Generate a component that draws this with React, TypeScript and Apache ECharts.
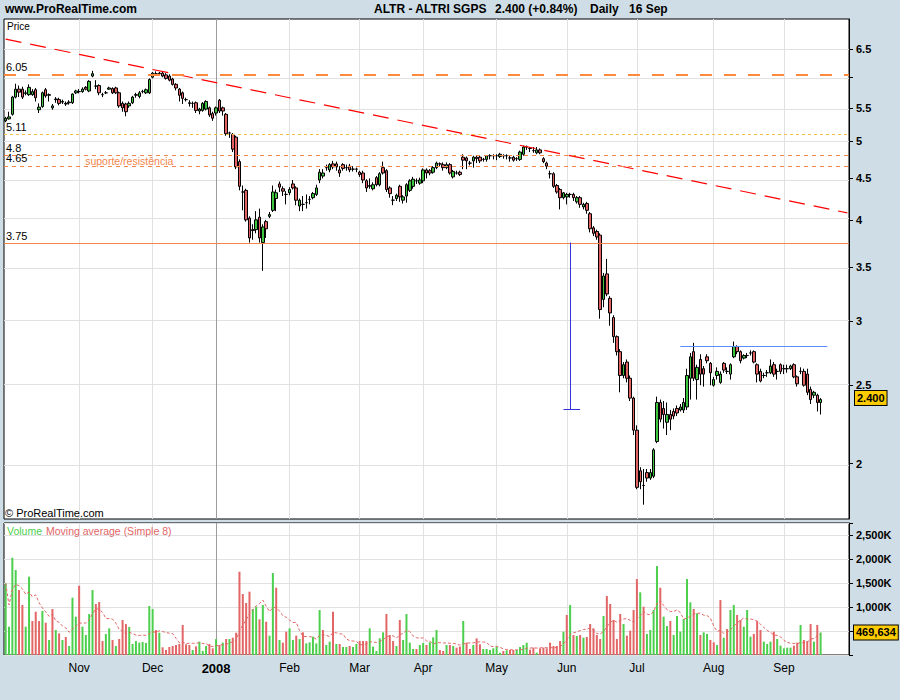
import { useEffect, useRef } from "react";
import * as echarts from "echarts";

// ---------------- data ----------------
const FIRST_TRADING_DAY = "2007-10-02";
const MARKET_HOLIDAYS = ["2007-12-25", "2007-12-26", "2008-01-01", "2008-03-21", "2008-03-24", "2008-05-01"];
const EMPTY_FUTURE_SLOTS = 8;
const MONTH_ABBR = ["Jan", "Feb", "Mar", "Apr", "May", "Jun", "Jul", "Aug", "Sep", "Oct", "Nov", "Dec"];

// daily candles: [open, high, low, close]
const CANDLES: number[][] = [
  [5.30,5.36,5.28,5.34],[5.33,5.44,5.32,5.36],[5.40,5.69,5.38,5.67],[5.67,5.89,5.65,5.80],[5.80,5.86,5.67,5.75],
  [5.80,5.84,5.64,5.67],[5.73,5.78,5.70,5.74],[5.71,5.88,5.69,5.83],[5.71,5.80,5.69,5.76],[5.79,5.82,5.60,5.66],
  [5.47,5.57,5.42,5.51],[5.52,5.76,5.50,5.74],[5.79,5.82,5.66,5.69],[5.70,5.73,5.60,5.71],[5.50,5.56,5.47,5.53],
  [5.64,5.67,5.58,5.63],[5.63,5.66,5.54,5.57],[5.59,5.63,5.56,5.60],[5.57,5.60,5.53,5.56],[5.58,5.62,5.55,5.59],
  [5.58,5.73,5.56,5.72],[5.74,5.79,5.72,5.77],[5.76,5.80,5.73,5.76],[5.76,5.83,5.74,5.80],[5.83,5.85,5.78,5.80],
  [5.77,5.95,5.75,5.93],[6.02,6.11,6.00,6.06],[5.85,5.95,5.80,5.85],[5.86,5.88,5.70,5.74],[5.71,5.74,5.67,5.71],
  [5.74,5.77,5.72,5.74],[5.80,5.84,5.79,5.82],[5.81,5.83,5.72,5.74],[5.82,5.84,5.72,5.74],[5.74,5.76,5.50,5.53],
  [5.57,5.60,5.44,5.50],[5.56,5.58,5.37,5.44],[5.53,5.60,5.50,5.57],[5.58,5.69,5.56,5.67],[5.70,5.74,5.66,5.71],
  [5.68,5.77,5.65,5.74],[5.76,5.79,5.73,5.76],[5.74,5.81,5.72,5.79],[5.74,5.98,5.72,5.96],[6.00,6.09,5.98,6.07],
  [6.06,6.10,6.03,6.06],[6.07,6.09,6.03,6.06],[6.07,6.09,6.00,6.02],[6.04,6.07,5.96,5.98],[6.02,6.05,5.93,5.95],
  [5.97,5.99,5.86,5.88],[5.88,5.90,5.78,5.82],[5.80,5.82,5.60,5.70],[5.74,5.76,5.56,5.65],[5.63,5.66,5.60,5.63],
  [5.58,5.62,5.52,5.57],[5.57,5.60,5.50,5.57],[5.58,5.60,5.42,5.46],[5.45,5.50,5.40,5.48],[5.46,5.59,5.44,5.57],
  [5.48,5.62,5.46,5.60],[5.50,5.52,5.36,5.39],[5.41,5.44,5.30,5.34],[5.42,5.52,5.38,5.50],[5.62,5.64,5.42,5.45],
  [5.50,5.52,5.38,5.45],[5.40,5.42,5.08,5.11],[5.12,5.14,5.05,5.12],[5.10,5.12,4.85,4.89],[5.06,5.08,4.62,4.65],
  [4.72,4.75,4.35,4.40],[4.33,4.41,4.11,4.33],[4.35,4.37,3.98,4.00],[4.02,4.04,3.75,3.80],[3.89,3.95,3.78,3.88],
  [3.89,4.10,3.85,4.00],[4.03,4.13,3.75,3.80],[3.75,3.95,3.46,3.92],[3.98,4.00,3.80,3.90],[4.04,4.09,4.02,4.06],
  [4.11,4.41,4.09,4.33],[4.25,4.36,4.10,4.32],[4.43,4.46,4.33,4.39],[4.37,4.40,4.28,4.34],[4.30,4.34,4.18,4.30],
  [4.32,4.39,4.29,4.36],[4.43,4.48,4.36,4.38],[4.38,4.40,4.17,4.23],[4.16,4.25,4.10,4.23],[4.18,4.28,4.10,4.18],
  [4.20,4.30,4.13,4.20],[4.24,4.28,4.18,4.24],[4.26,4.33,4.24,4.31],[4.30,4.42,4.28,4.38],[4.48,4.62,4.44,4.58],
  [4.53,4.62,4.50,4.57],[4.64,4.68,4.60,4.64],[4.61,4.70,4.58,4.68],[4.69,4.73,4.62,4.65],[4.69,4.72,4.60,4.65],
  [4.61,4.66,4.52,4.57],[4.68,4.70,4.60,4.63],[4.64,4.68,4.60,4.64],[4.66,4.69,4.58,4.61],[4.62,4.66,4.59,4.62],
  [4.62,4.64,4.58,4.62],[4.58,4.60,4.52,4.55],[4.57,4.60,4.44,4.48],[4.47,4.49,4.33,4.38],[4.41,4.50,4.37,4.40],
  [4.37,4.45,4.35,4.42],[4.51,4.53,4.40,4.42],[4.42,4.58,4.40,4.56],[4.64,4.72,4.55,4.57],[4.60,4.62,4.33,4.36],
  [4.38,4.40,4.26,4.31],[4.23,4.28,4.17,4.23],[4.25,4.31,4.22,4.29],[4.40,4.42,4.21,4.27],[4.23,4.29,4.19,4.27],
  [4.28,4.44,4.20,4.42],[4.35,4.49,4.33,4.47],[4.40,4.52,4.37,4.49],[4.47,4.50,4.43,4.47],[4.44,4.51,4.42,4.48],
  [4.47,4.63,4.44,4.61],[4.61,4.63,4.50,4.57],[4.60,4.62,4.54,4.57],[4.58,4.66,4.56,4.64],[4.64,4.72,4.62,4.70],
  [4.69,4.71,4.66,4.69],[4.68,4.71,4.60,4.64],[4.64,4.71,4.62,4.68],[4.68,4.70,4.55,4.57],[4.52,4.61,4.50,4.59],
  [4.57,4.60,4.55,4.57],[4.58,4.60,4.53,4.55],[4.78,4.82,4.62,4.74],[4.77,4.79,4.62,4.73],[4.70,4.73,4.67,4.70],
  [4.73,4.80,4.64,4.78],[4.78,4.80,4.70,4.76],[4.78,4.80,4.70,4.73],[4.75,4.77,4.72,4.75],[4.75,4.81,4.72,4.80],
  [4.80,4.82,4.75,4.80],[4.80,4.82,4.75,4.80],[4.80,4.82,4.74,4.80],[4.79,4.84,4.77,4.82],[4.80,4.82,4.76,4.80],
  [4.80,4.82,4.75,4.80],[4.77,4.80,4.72,4.77],[4.78,4.80,4.72,4.74],[4.76,4.78,4.73,4.76],[4.75,4.87,4.73,4.85],
  [4.82,4.94,4.80,4.92],[4.92,4.94,4.88,4.92],[4.90,4.92,4.85,4.90],[4.87,4.92,4.84,4.87],[4.84,4.92,4.82,4.88],
  [4.88,4.90,4.82,4.84],[4.76,4.78,4.70,4.72],[4.70,4.72,4.62,4.66],[4.56,4.60,4.50,4.56],[4.56,4.58,4.38,4.40],
  [4.41,4.43,4.31,4.33],[4.36,4.38,4.12,4.26],[4.26,4.33,4.24,4.32],[4.27,4.32,4.18,4.30],[4.30,4.32,4.26,4.30],
  [4.30,4.32,4.22,4.26],[4.21,4.28,4.19,4.26],[4.26,4.28,4.14,4.18],[4.15,4.20,4.12,4.18],[4.19,4.21,4.07,4.11],
  [4.07,4.09,3.86,3.90],[3.91,3.93,3.82,3.85],[3.87,3.89,3.78,3.81],[3.83,3.85,3.02,3.10],[3.19,3.44,3.12,3.41],
  [3.43,3.58,3.22,3.24],[3.20,3.22,2.96,3.07],[3.03,3.05,2.82,2.87],[2.87,2.88,2.72,2.75],[2.75,2.77,2.45,2.57],
  [2.57,2.67,2.55,2.65],[2.67,2.69,2.52,2.55],[2.55,2.57,2.39,2.41],[2.41,2.42,2.17,2.20],[2.20,2.23,1.86,1.87],
  [1.96,1.98,1.86,1.90],[1.88,1.97,1.78,1.88],[1.95,1.97,1.90,1.92],[1.92,1.97,1.91,1.95],[1.93,2.09,1.92,2.08],
  [2.13,2.42,2.12,2.38],[2.38,2.40,2.25,2.27],[2.34,2.39,2.21,2.30],[2.25,2.38,2.17,2.30],[2.30,2.33,2.20,2.27],
  [2.32,2.34,2.27,2.29],[2.34,2.36,2.29,2.31],[2.33,2.37,2.32,2.35],[2.33,2.41,2.31,2.38],[2.35,2.62,2.33,2.57],
  [2.55,2.74,2.40,2.71],[2.75,2.82,2.53,2.55],[2.54,2.65,2.40,2.63],[2.69,2.73,2.50,2.58],[2.62,2.64,2.49,2.58],
  [2.71,2.73,2.66,2.68],[2.66,2.67,2.50,2.59],[2.50,2.56,2.49,2.54],[2.57,2.63,2.54,2.60],[2.52,2.60,2.51,2.58],
  [2.66,2.67,2.59,2.61],[2.60,2.63,2.58,2.60],[2.58,2.66,2.54,2.65],[2.71,2.83,2.70,2.79],[2.79,2.80,2.73,2.75],
  [2.75,2.76,2.66,2.68],[2.70,2.73,2.69,2.72],[2.72,2.74,2.70,2.72],[2.74,2.76,2.72,2.74],[2.75,2.76,2.66,2.67],
  [2.65,2.66,2.52,2.58],[2.60,2.62,2.52,2.53],[2.57,2.59,2.55,2.57],[2.59,2.61,2.56,2.59],[2.59,2.69,2.58,2.64],
  [2.65,2.67,2.56,2.58],[2.60,2.62,2.54,2.60],[2.65,2.66,2.58,2.60],[2.62,2.65,2.58,2.62],[2.62,2.65,2.59,2.62],
  [2.62,2.65,2.61,2.64],[2.65,2.66,2.55,2.56],[2.56,2.57,2.49,2.51],[2.60,2.63,2.58,2.60],[2.60,2.62,2.49,2.50],
  [2.58,2.62,2.43,2.45],[2.47,2.49,2.37,2.40],[2.43,2.46,2.41,2.45],[2.43,2.44,2.32,2.38],[2.38,2.41,2.30,2.40],
];

// daily volume, thousands of shares
const VOLUME_K: number[] = [
  1492, 590, 2026, 1770, 1353, 1041, 590, 1631, 708, 902,
  708, 916, 673, 312, 958, 520, 451, 312, 375, 187,
  1194, 798, 1443, 590, 416, 854, 1353, 1062, 1103, 291,
  437, 555, 312, 187, 333, 729, 645, 583, 229, 291,
  257, 271, 250, 1020, 958, 520, 465, 160, 104, 167,
  187, 208, 229, 625, 222, 208, 104, 180, 278, 83,
  187, 229, 139, 333, 208, 257, 333, 333, 361, 465,
  1735, 1270, 1083, 1319, 958, 1006, 743, 1041, 694, 403,
  1707, 1402, 312, 257, 486, 555, 312, 403, 333, 472,
  243, 264, 382, 243, 937, 520, 208, 278, 902, 229,
  229, 167, 167, 187, 167, 229, 291, 291, 291, 555,
  174, 83, 347, 472, 854, 416, 291, 187, 729, 312,
  854, 257, 125, 125, 208, 250, 208, 264, 368, 520,
  104, 83, 208, 208, 187, 153, 174, 708, 257, 125,
  208, 347, 222, 125, 125, 104, 139, 174, 49, 83,
  97, 104, 104, 104, 167, 208, 257, 111, 153, 49,
  139, 153, 139, 257, 187, 187, 291, 486, 833, 1041,
  416, 396, 416, 361, 375, 645, 555, 416, 333, 812,
  1228, 1062, 729, 333, 854, 645, 403, 507, 937, 1582,
  1305, 1006, 437, 520, 937, 1853, 1402, 798, 604, 708,
  416, 812, 486, 750, 1582, 1097, 958, 868, 416, 472,
  437, 312, 264, 208, 1145, 361, 541, 937, 1041, 833,
  729, 590, 937, 382, 437, 708, 520, 278, 229, 278,
  486, 333, 194, 139, 153, 153, 194, 257, 625, 312,
  291, 645, 278, 625, 469.634,
];

const PRICE_GRID_VALUES = [2, 2.5, 3, 3.5, 4, 4.5, 5, 5.5, 6, 6.5];
const PRICE_LABEL_VALUES = [2, 2.5, 3, 3.5, 4, 4.5, 5, 5.5, 6.5];
const PRICE_MIN = 1.709;
const PRICE_MAX = 7.08;
const VOLUME_MAX_K = 2750;
const VOLUME_LABELS_K = [1000, 1500, 2000, 2500];
const LEVEL_605 = 6.05;
const LEVEL_511 = 5.11;
const LEVEL_480 = 4.8;
const LEVEL_465 = 4.65;
const LEVEL_375 = 3.75;
const TRENDLINE_START = 6.686;
const TRENDLINE_END = 4.08;
const MEASURE_BOTTOM = 2.334;
const RESISTANCE = 2.795;
const LAST_PRICE = 2.4;
const LAST_PRICE_TEXT = "2.400";
const LAST_VOLUME = 469634;
const MA_PERIOD = 8;

// ---------------- helpers ----------------
function tradingDays(startISO: string, count: number): string[] {
  const out: string[] = [];
  const d = new Date(startISO + "T12:00:00Z");
  while (out.length < count) {
    const dow = d.getUTCDay();
    const iso = d.toISOString().slice(0, 10);
    if (dow !== 0 && dow !== 6 && !MARKET_HOLIDAYS.includes(iso)) out.push(iso);
    d.setUTCDate(d.getUTCDate() + 1);
  }
  return out;
}

const FONT = "Arial, 'Liberation Sans', Helvetica, sans-serif";
const GREEN = "#3fc43f";
const RED = "#e06262";
const VGREEN = "#4ccf4c";
const VRED = "#e26666";
const GRID_GREY = "#e1e1e1";
const INVISIBLE_LINE = { color: "rgba(0,0,0,0)", width: 1, type: "solid" };

function buildOption(): any {
  const L = Math.log;
  const n = CANDLES.length;
  const dates = tradingDays(FIRST_TRADING_DAY, n + EMPTY_FUTURE_SLOTS);
  const last = dates.length - 1;
  const monthStarts: number[] = [];
  for (let i = 1; i < n; i++) {
    if (dates[i].slice(0, 7) !== dates[i - 1].slice(0, 7)) monthStarts.push(i);
  }
  const startSet = new Set(monthStarts);
  const closes = CANDLES.map((c) => c[3]);
  const isUp = (i: number) => (i === 0 ? true : closes[i] >= closes[i - 1]);

  const ma = VOLUME_K.map((_, i) => {
    const s = Math.max(0, i - MA_PERIOD + 1);
    let sum = 0;
    for (let k = s; k <= i; k++) sum += VOLUME_K[k];
    return (sum / (i - s + 1)) * 1000;
  });

  const vLines = monthStarts.map((i) => ({
    xAxis: dates[i],
    lineStyle: { color: dates[i].slice(5, 7) === "01" ? "#9c9c9c" : GRID_GREY, width: 1, type: "solid" },
  }));
  const hLines = PRICE_GRID_VALUES.map((v) => ({
    yAxis: L(v),
    lineStyle: { color: GRID_GREY, width: 1, type: "solid" },
  }));

  const levelLabel = (txt: string) => ({
    show: true,
    formatter: txt,
    position: "insideStartTop",
    color: "#000",
    fontSize: 11,
    fontFamily: FONT,
    distance: [2, 2],
  });

  const boxLabel = (txt: string, distance: number) => ({
    show: true, position: "end", formatter: txt, distance,
    backgroundColor: "#ffcc00", borderColor: "#000", borderWidth: 1, padding: [2, 2, 1, 2],
    color: "#000", fontWeight: "bold", fontSize: 11, fontFamily: FONT,
  });

  const gridMarkBase = {
    silent: true,
    symbol: ["none", "none"],
    z: 1,
    label: { show: false },
    emphasis: { disabled: true },
    animation: false,
  };

  return {
    animation: false,
    backgroundColor: "#cfdee6",
    textStyle: { fontFamily: FONT },
    grid: [
      { left: 4, top: 19, width: 845, height: 500, show: true, backgroundColor: "#fff", borderColor: "#000", borderWidth: 1 },
      { left: 4, top: 523, width: 845, height: 132, show: true, backgroundColor: "#fff", borderColor: "#000", borderWidth: 1 },
    ],
    xAxis: [
      {
        type: "category", gridIndex: 0, data: dates, boundaryGap: true,
        axisLine: { show: false }, axisTick: { show: false }, axisLabel: { show: false }, splitLine: { show: false },
      },
      {
        type: "category", gridIndex: 1, data: dates, boundaryGap: true,
        axisLine: { show: false }, axisTick: { show: false }, splitLine: { show: false },
        axisLabel: {
          show: true,
          interval: (index: number) => startSet.has(index),
          formatter: (value: string) => {
            const m = parseInt(value.slice(5, 7), 10);
            return m === 1 ? `{y|${value.slice(0, 4)}}` : MONTH_ABBR[m - 1];
          },
          color: "#000",
          fontSize: 12,
          margin: 7,
          rich: { y: { fontWeight: "bold", fontSize: 13, color: "#000", fontFamily: FONT } },
        },
      },
    ],
    yAxis: [
      {
        type: "value", gridIndex: 0, position: "right",
        min: L(PRICE_MIN), max: L(PRICE_MAX),
        splitLine: { show: false },
        axisLine: { show: true, lineStyle: { color: "#000" } },
        axisTick: { show: true, length: 4, lineStyle: { color: "#000" }, customValues: PRICE_GRID_VALUES.map(L) },
        axisLabel: {
          customValues: PRICE_LABEL_VALUES.map(L),
          formatter: (v: number) => String(Math.round(Math.exp(v) * 100) / 100),
          color: "#000", fontWeight: "bold", fontSize: 11, margin: 7,
        },
      },
      {
        type: "value", gridIndex: 1, position: "right",
        min: 0, max: VOLUME_MAX_K * 1000, interval: 500000,
        splitLine: { show: true, lineStyle: { color: GRID_GREY } },
        axisLine: { show: true, lineStyle: { color: "#000" } },
        axisTick: { show: true, length: 4, lineStyle: { color: "#000" } },
        axisLabel: {
          formatter: (v: number) =>
            VOLUME_LABELS_K.includes(Math.round(v / 1000)) ? Math.round(v / 1000).toLocaleString("en-US") + "K" : "",
          color: "#000", fontWeight: "bold", fontSize: 11, margin: 7,
        },
      },
    ],
    series: [
      // price grid lines (below candles)
      {
        type: "line", xAxisIndex: 0, yAxisIndex: 0, data: [], silent: true,
        markLine: { ...gridMarkBase, data: [...hLines, ...vLines] },
      },
      {
        type: "candlestick", name: "ALTR", xAxisIndex: 0, yAxisIndex: 0, z: 3,
        silent: true,
        barWidth: 3,
        data: CANDLES.map(([o, h, l, c]) => [L(o), L(c), L(l), L(h)]),
        itemStyle: { color: GREEN, color0: RED, borderColor: "#000", borderColor0: "#000", borderWidth: 1 },
        emphasis: { disabled: true },
      },
      // drawn annotations
      {
        type: "line", xAxisIndex: 0, yAxisIndex: 0, data: [], silent: true,
        markLine: {
          silent: true, symbol: ["none", "none"], z: 6, animation: false,
          label: { show: false }, emphasis: { disabled: true },
          data: [
            [
              { coord: [dates[0], L(TRENDLINE_START)], lineStyle: { color: "#ff0000", width: 1.2, type: [16, 9] } },
              { coord: [dates[last], L(TRENDLINE_END)] },
            ],
            { yAxis: L(LEVEL_605), lineStyle: { color: "#ff8a3d", width: 2, type: [12, 12] }, label: levelLabel("6.05") },
            { yAxis: L(LEVEL_511), lineStyle: { color: "#f3c04c", width: 1, type: [3, 3] }, label: levelLabel("5.11") },
            { yAxis: L(LEVEL_480), lineStyle: { color: "#f3864c", width: 1, type: [4, 4] }, label: levelLabel("4.8") },
            { yAxis: L(LEVEL_465), lineStyle: { color: "#f3864c", width: 1, type: [4, 4] }, label: levelLabel("4.65") },
            { yAxis: L(LEVEL_375), lineStyle: { color: "#f3864c", width: 1, type: "solid" }, label: levelLabel("3.75") },
            [
              { coord: [dates[169], L(LEVEL_375)], lineStyle: { color: "#3434dc", width: 1, type: "solid" } },
              { coord: [dates[169], L(MEASURE_BOTTOM)] },
            ],
            [
              { coord: [dates[167], L(MEASURE_BOTTOM)], lineStyle: { color: "#3434dc", width: 1, type: "solid" } },
              { coord: [dates[172], L(MEASURE_BOTTOM)] },
            ],
            [
              { coord: [dates[202], L(RESISTANCE)], lineStyle: { color: "#5a8cff", width: 1, type: "solid" } },
              { coord: [dates[246], L(RESISTANCE)] },
            ],
            { yAxis: L(LAST_PRICE), lineStyle: INVISIBLE_LINE, label: boxLabel(LAST_PRICE_TEXT, 6) },
          ],
        },
        markPoint: {
          silent: true, symbol: "circle", symbolSize: 0, animation: false,
          label: {
            show: true, position: "top", distance: 0, formatter: "suporte/resistência",
            color: "#f3864c", fontSize: 10.5, fontFamily: FONT,
          },
          data: [{ coord: [dates[37], L(LEVEL_465)] }],
        },
      },
      // volume grid lines
      {
        type: "line", xAxisIndex: 1, yAxisIndex: 1, data: [], silent: true,
        markLine: { ...gridMarkBase, data: vLines },
      },
      {
        type: "bar", name: "Volume", xAxisIndex: 1, yAxisIndex: 1, z: 3, silent: true,
        barWidth: 2,
        data: VOLUME_K.map((v, i) => ({ value: v * 1000, itemStyle: { color: isUp(i) ? VGREEN : VRED } })),
        emphasis: { disabled: true },
      },
      {
        type: "line", name: "Moving average (Simple 8)", xAxisIndex: 1, yAxisIndex: 1, z: 4, silent: true,
        data: ma, showSymbol: false, symbol: "none",
        lineStyle: { color: "#e26666", width: 1, type: [3, 2] },
        emphasis: { disabled: true },
        markLine: {
          silent: true, symbol: ["none", "none"], z: 6, animation: false,
          emphasis: { disabled: true },
          data: [
            { yAxis: LAST_VOLUME, lineStyle: INVISIBLE_LINE, label: boxLabel(LAST_VOLUME.toLocaleString("en-US"), 5) },
          ],
        },
      },
    ],
    graphic: [
      { type: "text", left: 5, top: 3, z: 10, style: { text: "www.ProRealTime.com", font: `bold 12px ${FONT}`, fill: "#000" } },
      { type: "text", left: 374, top: 3, z: 10, style: { text: "ALTR - ALTRI SGPS", font: `bold 12px ${FONT}`, fill: "#000" } },
      { type: "text", left: 495, top: 3, z: 10, style: { text: "2.400 (+0.84%)", font: `bold 12px ${FONT}`, fill: "#000" } },
      { type: "text", left: 590, top: 3, z: 10, style: { text: "Daily", font: `bold 12px ${FONT}`, fill: "#000" } },
      { type: "text", left: 629, top: 3, z: 10, style: { text: "16 Sep", font: `bold 12px ${FONT}`, fill: "#000" } },
      { type: "text", left: 7, top: 21, z: 10, style: { text: "Price", font: `10px ${FONT}`, fill: "#000" } },
      { type: "text", left: 5, top: 507, z: 10, style: { text: "© ProRealTime.com", font: `11px ${FONT}`, fill: "#000" } },
      { type: "text", left: 7, top: 525, z: 10, style: { text: "Volume", font: `10.5px ${FONT}`, fill: VGREEN } },
      { type: "text", left: 46, top: 525, z: 10, style: { text: "Moving average (Simple 8)", font: `10.5px ${FONT}`, fill: VRED } },
    ],
  };
}

export default function App() {
  const ref = useRef<HTMLDivElement>(null);
  useEffect(() => {
    if (!ref.current) return;
    const chart = echarts.init(ref.current, null, { renderer: "svg" });
    chart.setOption(buildOption());
    return () => chart.dispose();
  }, []);
  return <div ref={ref} style={{ position: "absolute", left: 0, top: 0, width: 900, height: 700 }} />;
}
